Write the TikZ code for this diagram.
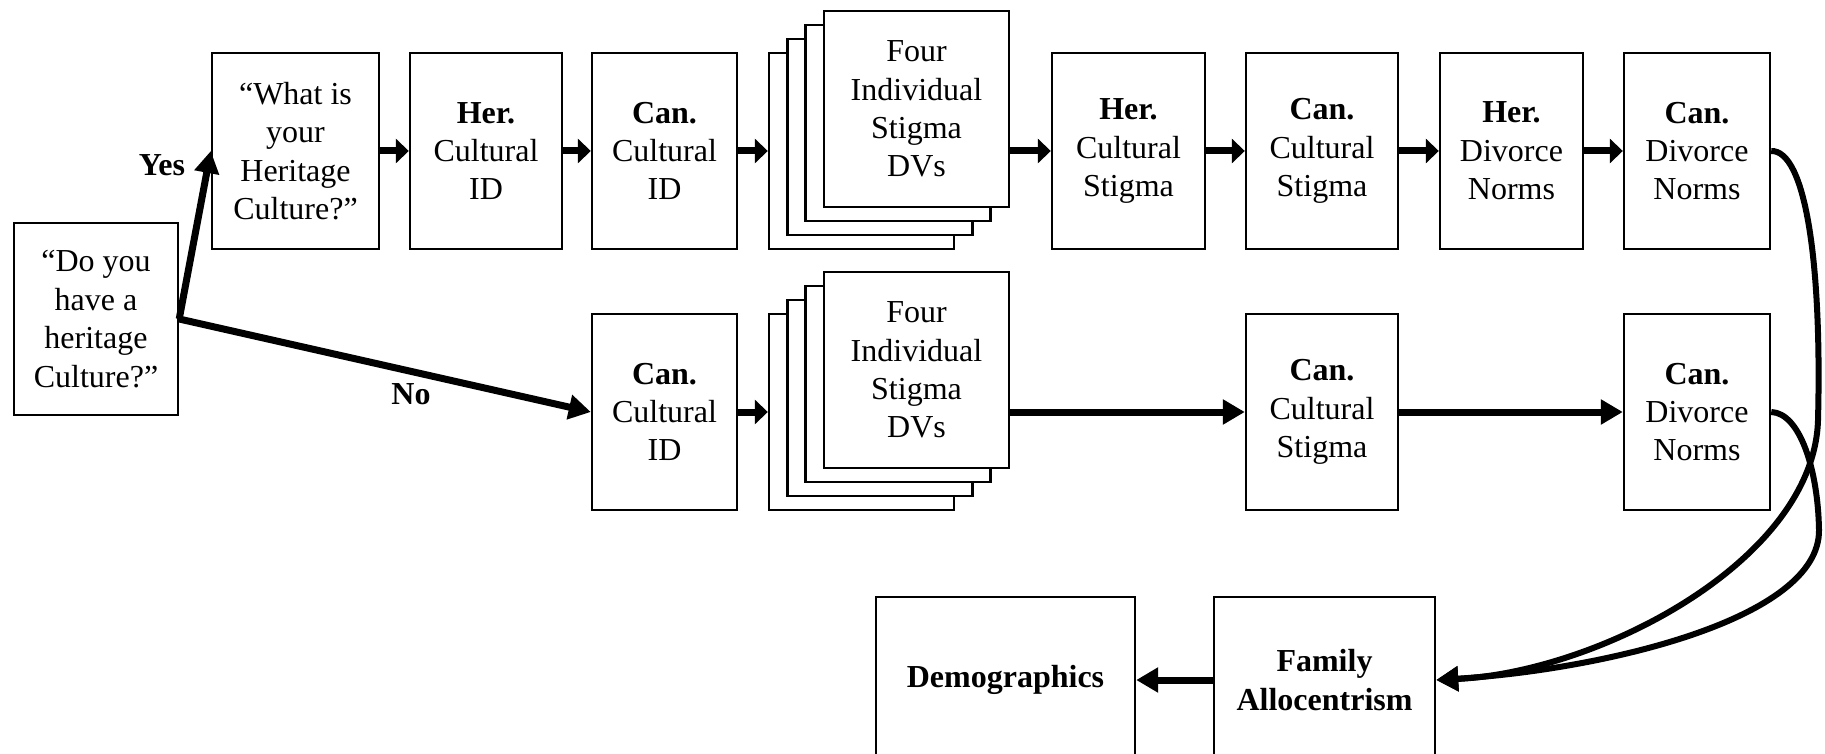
\documentclass[tikz,border=0pt]{standalone}
\usepackage{fontspec}
\setmainfont{Liberation Serif}
\usetikzlibrary{arrows.meta}

\tikzset{
	box/.style={draw,line width=1.2pt,fill=white,align=center,inner sep=0pt,
		minimum height=98pt,font=\fontsize{16}{19.2}\selectfont},
	lbl/.style={font=\fontsize{16}{19.2}\selectfont\bfseries},
	sarr/.style={line width=3.5pt,-{Triangle[length=6.5pt,width=12pt]}},
	arr/.style={line width=3.5pt,-{Triangle[length=11pt,width=12pt]}},
	carr/.style={line width=3pt,-{Triangle[length=11pt,width=12pt]}}
}

\begin{document}
\begin{tikzpicture}[x=0.5pt,y=-0.5pt]
	\clip (0,0) rectangle (1825,754);
	\node[box,minimum width=82pt,minimum height=96pt] (doyou) at (96,319) {“Do you\\have a\\heritage\\Culture?”};
	\node[box,minimum width=83.5pt] (what) at (295.5,151) {“What is\\your\\Heritage\\Culture?”};
	\node[box,minimum width=76pt] (herid) at (486,151) {\textbf{Her.}\\Cultural\\ID};
	\node[box,minimum width=72.5pt] (canid) at (664.5,151) {\textbf{Can.}\\Cultural\\ID};
	\foreach \i in {0,1,2}
		\node[box,minimum width=92.5pt] (dvA\i) at ({861.5+18.33*\i},{151-14*\i}) {};
	\node[box,minimum width=92.5pt] (dvs) at (916.5,109) {Four\\Individual\\Stigma\\DVs};
	\node[box,minimum width=76.5pt] (herstig) at (1128.5,151) {\textbf{Her.}\\Cultural\\Stigma};
	\node[box,minimum width=76pt] (canstig) at (1322,151) {\textbf{Can.}\\Cultural\\Stigma};
	\node[box,minimum width=71.5pt] (herdiv) at (1511.5,151) {\textbf{Her.}\\Divorce\\Norms};
	\node[box,minimum width=73pt] (candiv) at (1697,151) {\textbf{Can.}\\Divorce\\Norms};

	\node[box,minimum width=72.5pt] (canidB) at (664.5,412) {\textbf{Can.}\\Cultural\\ID};
	\foreach \i in {0,1,2}
		\node[box,minimum width=92.5pt] (dvB\i) at ({861.5+18.33*\i},{412-14*\i}) {};
	\node[box,minimum width=92.5pt] (dvsB) at (916.5,370) {Four\\Individual\\Stigma\\DVs};
	\node[box,minimum width=76pt] (canstigB) at (1322,412) {\textbf{Can.}\\Cultural\\Stigma};
	\node[box,minimum width=73pt] (candivB) at (1697,412) {\textbf{Can.}\\Divorce\\Norms};

	\node[box,minimum width=129.5pt,minimum height=83pt] (demo) at (1005.5,680) {\textbf{Demographics}};
	\node[box,minimum width=110.5pt,minimum height=83pt] (fam) at (1324.5,680) {\textbf{Family}\\\textbf{Allocentrism}};

	\draw[arr] (doyou.east) -- (what.west);
	\draw[arr] (doyou.east) -- (canidB.west);
	\node[lbl] (yes) at (162,165) {Yes};
	\node[lbl] (no) at (411,394) {No};

	\draw[sarr] (what) -- (herid);
	\draw[sarr] (herid) -- (canid);
	\draw[sarr] (canid) -- (dvA0);
	\draw[sarr] (dvs.east |- herstig.west) -- (herstig);
	\draw[sarr] (herstig) -- (canstig);
	\draw[sarr] (canstig) -- (herdiv);
	\draw[sarr] (herdiv) -- (candiv);

	\draw[sarr] (canidB) -- (dvB0);
	\draw[arr] (dvsB.east |- canstigB.west) -- (canstigB);
	\draw[arr] (canstigB) -- (candivB);

	\draw[carr] (candiv.east) .. controls (1805,150) and (1822,260) .. (1818,420)
		.. controls (1814,560) and (1600,672) .. (fam.east);
	\draw[carr] (candivB.east) .. controls (1800,413) and (1818,470) .. (1819,530)
		.. controls (1820,620) and (1600,670) .. (fam.east);
	\draw[arr] (fam) -- (demo);
\end{tikzpicture}
\end{document}
